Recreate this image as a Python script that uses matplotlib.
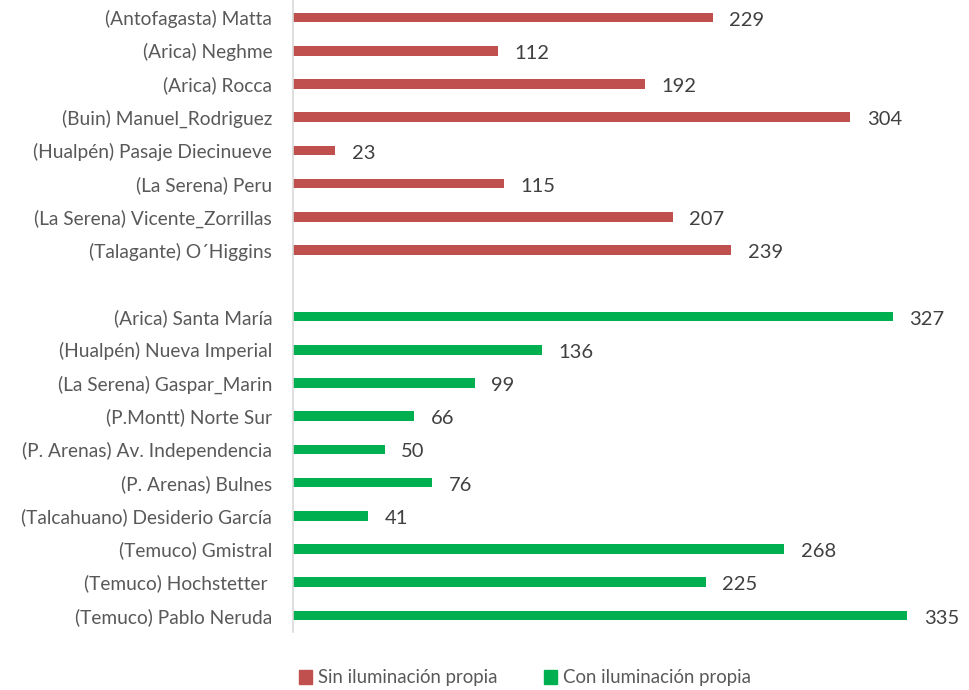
import matplotlib.pyplot as plt
import numpy as np
from matplotlib.patches import Patch

# data
sin_labels = ['(Antofagasta) Matta', '(Arica) Neghme', '(Arica) Rocca',
              '(Buin) Manuel_Rodriguez', '(Hualpén) Pasaje Diecinueve',
              '(La Serena) Peru', '(La Serena) Vicente_Zorrillas',
              '(Talagante) O´Higgins']
sin_values = [229, 112, 192, 304, 23, 115, 207, 239]

con_labels = ['(Arica) Santa María', '(Hualpén) Nueva Imperial',
              '(La Serena) Gaspar_Marin', '(P.Montt) Norte Sur',
              '(P. Arenas) Av. Independencia', '(P. Arenas) Bulnes',
              '(Talcahuano) Desiderio García', '(Temuco) Gmistral',
              '(Temuco) Hochstetter ', '(Temuco) Pablo Neruda']
con_values = [327, 136, 99, 66, 50, 76, 41, 268, 225, 335]

red = '#C0504D'
green = '#00B050'

plt.rcParams['font.family'] = ['Lato', 'DejaVu Sans']

fig = plt.figure(figsize=(9.7, 6.9), dpi=100)
ax = fig.add_axes([293 / 970, 1 - 632 / 690, 660 / 970, 631 / 690])

n_sin = len(sin_labels)
n_con = len(con_labels)
sin_pos = np.arange(n_sin)
con_pos = np.arange(n_con) + n_sin + 1

h = 0.29
ax.barh(sin_pos, sin_values, height=h, color=red)
ax.barh(con_pos, con_values, height=h, color=green)

for p, v in zip(sin_pos, sin_values):
    ax.text(v + 9, p + 0.08, str(v), va='center', ha='left', fontsize=14.5, color='#404040')
for p, v in zip(con_pos, con_values):
    ax.text(v + 9, p + 0.08, str(v), va='center', ha='left', fontsize=14.5, color='#404040')

ax.set_yticks(list(sin_pos) + list(con_pos))
ax.set_yticklabels(sin_labels + con_labels, fontsize=13.8, color='#595959')
ax.tick_params(axis='y', length=0, pad=15)
ax.set_xticks([])
ax.set_xlim(0, 360)
ax.set_ylim(n_sin + n_con + 0.5, -0.5)

for s in ['top', 'right', 'bottom']:
    ax.spines[s].set_visible(False)
ax.spines['left'].set_color('#D9D9D9')
ax.spines['left'].set_linewidth(1.2)

handles = [Patch(color=red, label='Sin iluminación propia'),
           Patch(color=green, label='Con iluminación propia')]
fig.legend(handles=handles, loc='center', bbox_to_anchor=(525 / 970, 1 - 678 / 690),
           ncol=2, frameon=False, fontsize=13.4, handlelength=0.7, handleheight=0.7,
           handletextpad=0.3, columnspacing=2.5, labelcolor='#595959')

fig.savefig('out.png', dpi=100)
